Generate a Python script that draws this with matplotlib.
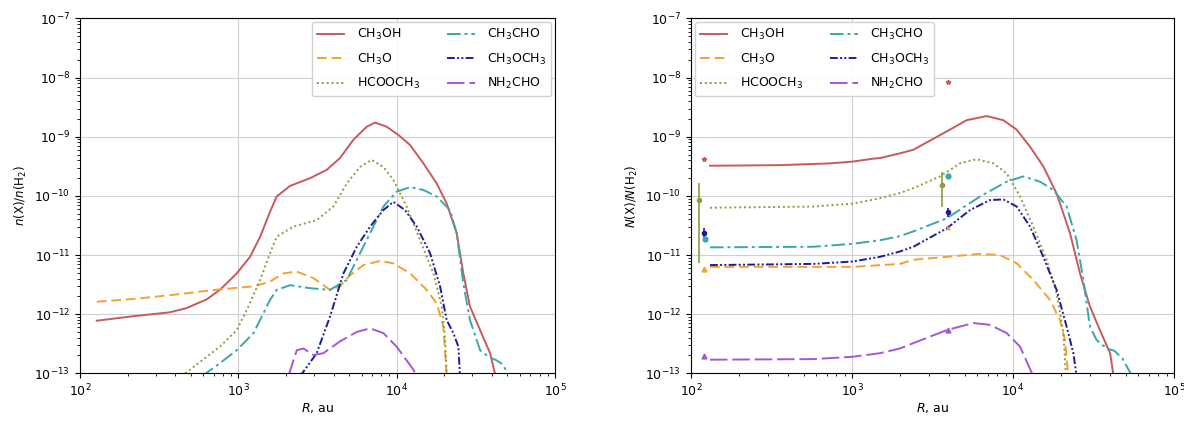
import numpy as np
import matplotlib
matplotlib.use("Agg")
import matplotlib.pyplot as plt
from matplotlib.ticker import NullFormatter, LogLocator, FixedLocator

species = ["CH$_3$OH", "CH$_3$O", "HCOOCH$_3$", "CH$_3$CHO", "CH$_3$OCH$_3$", "NH$_2$CHO"]
colors = ["#c85a5a", "#f5a030", "#8a9d3c", "#3aa8a8", "#1c1c98", "#a458d6"]
styles = ["-", (0, (5, 2.5)), (0, (1, 1.5)), (0, (7, 2, 1.5, 2)), (0, (4, 1.2, 1, 1.2, 1, 1.2)), (0, (9, 2.5))]

x_ticks = [1e2, 1e3, 1e4, 1e5]
y_ticks = [1e-13, 1e-12, 1e-11, 1e-10, 1e-9, 1e-8, 1e-7]

# ---- left panel: log10 R [au], log10 n(X)/n(H2)
L_CH3OH_x = [2.106, 2.351, 2.564, 2.67, 2.80, 2.883, 2.99, 3.074, 3.138, 3.20, 3.242, 3.327, 3.453, 3.558, 3.642, 3.727, 3.811, 3.863, 3.937, 4.011, 4.085, 4.169, 4.253, 4.316, 4.379, 4.421, 4.463, 4.527, 4.59, 4.625]
L_CH3OH_y = [-12.11, -12.03, -11.97, -11.90, -11.75, -11.59, -11.31, -11.03, -10.69, -10.27, -10.01, -9.83, -9.70, -9.56, -9.36, -9.05, -8.83, -8.76, -8.83, -8.97, -9.14, -9.45, -9.79, -10.13, -10.63, -11.31, -11.87, -12.27, -12.66, -13.05]
L_CH3O_x = [2.106, 2.351, 2.564, 2.883, 3.096, 3.20, 3.285, 3.369, 3.474, 3.579, 3.642, 3.706, 3.79, 3.895, 3.979, 4.085, 4.19, 4.253, 4.295, 4.316]
L_CH3O_y = [-11.79, -11.74, -11.68, -11.58, -11.53, -11.45, -11.31, -11.28, -11.39, -11.59, -11.53, -11.34, -11.17, -11.10, -11.14, -11.31, -11.59, -11.82, -12.21, -13.05]
L_HCOOCH3_x = [2.64, 2.777, 2.883, 2.99, 3.053, 3.138, 3.20, 3.242, 3.348, 3.495, 3.60, 3.685, 3.769, 3.842, 3.916, 3.979, 4.063, 4.148, 4.232, 4.285, 4.306, 4.316]
L_HCOOCH3_y = [-13.05, -12.77, -12.55, -12.27, -11.93, -11.42, -10.97, -10.69, -10.52, -10.41, -10.18, -9.79, -9.51, -9.39, -9.51, -9.73, -10.18, -10.75, -11.31, -11.87, -12.44, -13.05]
L_CH3CHO_x = [2.77, 2.883, 2.99, 3.096, 3.20, 3.242, 3.327, 3.453, 3.579, 3.685, 3.748, 3.832, 3.916, 4.00, 4.085, 4.169, 4.253, 4.337, 4.379, 4.421, 4.463, 4.527, 4.579, 4.63, 4.67, 4.71]
L_CH3CHO_y = [-13.05, -12.83, -12.61, -12.32, -11.76, -11.59, -11.51, -11.56, -11.59, -11.42, -11.08, -10.63, -10.18, -9.93, -9.85, -9.90, -10.01, -10.24, -10.63, -11.48, -12.10, -12.61, -12.72, -12.78, -12.85, -13.05]
L_CH3OCH3_x = [3.39, 3.495, 3.579, 3.664, 3.748, 3.832, 3.916, 3.979, 4.053, 4.127, 4.211, 4.274, 4.316, 4.358, 4.39, 4.40]
L_CH3OCH3_y = [-13.05, -12.66, -12.04, -11.31, -10.86, -10.52, -10.24, -10.10, -10.24, -10.52, -10.97, -11.53, -12.10, -12.32, -12.55, -13.05]
L_NH2CHO_x = [3.316, 3.369, 3.411, 3.474, 3.537, 3.642, 3.748, 3.832, 3.916, 4.00, 4.106, 4.127]
L_NH2CHO_y = [-13.05, -12.61, -12.58, -12.69, -12.66, -12.46, -12.30, -12.24, -12.32, -12.55, -12.94, -13.05]

# ---- right panel: log10 R [au], log10 N(X)/N(H2)
R_CH3OH_x = [2.118, 2.553, 2.863, 3.004, 3.132, 3.174, 3.298, 3.381, 3.588, 3.712, 3.837, 3.94, 4.023, 4.106, 4.188, 4.271, 4.354, 4.416, 4.478, 4.54, 4.603, 4.625]
R_CH3OH_y = [-9.49, -9.48, -9.45, -9.42, -9.37, -9.36, -9.28, -9.22, -8.91, -8.72, -8.65, -8.72, -8.88, -9.17, -9.50, -9.96, -10.63, -11.31, -11.87, -12.27, -12.66, -13.05]
R_CH3O_x = [2.118, 3.004, 3.298, 3.381, 3.588, 3.795, 3.919, 4.023, 4.126, 4.23, 4.292, 4.323, 4.344]
R_CH3O_y = [-11.20, -11.20, -11.15, -11.08, -11.03, -10.98, -11.00, -11.14, -11.42, -11.76, -12.10, -12.44, -13.05]
R_HCOOCH3_x = [2.118, 2.76, 3.004, 3.174, 3.298, 3.381, 3.547, 3.671, 3.774, 3.878, 3.961, 4.044, 4.126, 4.209, 4.271, 4.313, 4.329]
R_HCOOCH3_y = [-10.20, -10.18, -10.13, -10.04, -9.95, -9.87, -9.67, -9.45, -9.38, -9.45, -9.62, -10.01, -10.52, -11.08, -11.65, -12.32, -13.05]
R_CH3CHO_x = [2.118, 2.76, 3.004, 3.174, 3.298, 3.381, 3.588, 3.795, 3.961, 4.064, 4.168, 4.25, 4.333, 4.395, 4.437, 4.478, 4.52, 4.582, 4.63, 4.68, 4.74]
R_CH3CHO_y = [-10.87, -10.86, -10.81, -10.75, -10.68, -10.60, -10.38, -10.01, -9.76, -9.67, -9.76, -9.90, -10.18, -10.75, -11.42, -12.21, -12.44, -12.58, -12.62, -12.75, -13.05]
R_CH3OCH3_x = [2.118, 2.76, 3.004, 3.174, 3.298, 3.381, 3.588, 3.733, 3.857, 3.94, 4.023, 4.106, 4.188, 4.271, 4.333, 4.375, 4.395]
R_CH3OCH3_y = [-11.17, -11.15, -11.11, -11.03, -10.94, -10.86, -10.55, -10.24, -10.07, -10.06, -10.18, -10.52, -11.03, -11.59, -12.21, -12.66, -13.05]
R_NH2CHO_x = [2.118, 2.76, 3.004, 3.174, 3.298, 3.381, 3.588, 3.754, 3.857, 3.961, 4.044, 4.126]
R_NH2CHO_y = [-12.77, -12.76, -12.72, -12.66, -12.58, -12.49, -12.27, -12.15, -12.18, -12.32, -12.55, -13.05]

# observations: log10 R, log10 value, error down / up (dex), species index, marker
obs_R = [2.081, 2.05, 2.081, 2.09, 2.081, 2.081, 3.596, 3.561, 3.598, 3.598, 3.598, 3.598]
obs_v = [-9.38, -10.07, -10.62, -10.73, -11.24, -12.71, -8.07, -9.82, -10.28, -9.67, -10.55, -12.27]
obs_lo = [0.0, 1.07, 0.07, 0.0, 0.0, 0.0, 0.0, 0.36, 0.07, 0.0, 0.0, 0.0]
obs_hi = [0.0, 0.28, 0.07, 0.0, 0.0, 0.0, 0.0, 0.23, 0.07, 0.0, 0.0, 0.0]
obs_col = [0, 2, 4, 3, 1, 5, 0, 2, 4, 3, 1, 5]
obs_mk = ["*", "o", "o", "o", "^", "^", "*", "o", "o", "o", "x", "^"]

left_x = [L_CH3OH_x, L_CH3O_x, L_HCOOCH3_x, L_CH3CHO_x, L_CH3OCH3_x, L_NH2CHO_x]
left_y = [L_CH3OH_y, L_CH3O_y, L_HCOOCH3_y, L_CH3CHO_y, L_CH3OCH3_y, L_NH2CHO_y]
right_x = [R_CH3OH_x, R_CH3O_x, R_HCOOCH3_x, R_CH3CHO_x, R_CH3OCH3_x, R_NH2CHO_x]
right_y = [R_CH3OH_y, R_CH3O_y, R_HCOOCH3_y, R_CH3CHO_y, R_CH3OCH3_y, R_NH2CHO_y]

W, H = 1184, 421
fig = plt.figure(figsize=(W / 100, H / 100), dpi=100)
ax1 = fig.add_axes([80 / W, 47.7 / H, 475 / W, 354.8 / H])
ax2 = fig.add_axes([691 / W, 47.7 / H, 483 / W, 354.8 / H])

for ax, xs, ys in [(ax1, left_x, left_y), (ax2, right_x, right_y)]:
    for i in range(6):
        ax.plot(10 ** np.array(xs[i]), 10 ** np.array(ys[i]), color=colors[i],
                linestyle=styles[i], lw=1.4, label=species[i])
    ax.set_xscale("log")
    ax.set_yscale("log")
    ax.set_xlim(1e2, 1e5)
    ax.set_ylim(1e-13, 1e-7)
    ax.xaxis.set_major_locator(FixedLocator(x_ticks))
    ax.yaxis.set_major_locator(FixedLocator(y_ticks))
    ax.xaxis.set_minor_locator(LogLocator(base=10, subs=np.arange(2, 10), numticks=20))
    ax.yaxis.set_minor_locator(LogLocator(base=10, subs=np.arange(2, 10), numticks=20))
    ax.xaxis.set_minor_formatter(NullFormatter())
    ax.yaxis.set_minor_formatter(NullFormatter())
    ax.grid(True, which="major", color="#d0d0d0", lw=0.8)
    ax.tick_params(labelsize=9)
    ax.set_xlabel("$R$, au", fontsize=9, labelpad=1)

for k in range(len(obs_R)):
    c = colors[obs_col[k]]
    x = 10 ** obs_R[k]
    y = 10 ** obs_v[k]
    if obs_lo[k] > 0 or obs_hi[k] > 0:
        ylo = y - 10 ** (obs_v[k] - obs_lo[k])
        yhi = 10 ** (obs_v[k] + obs_hi[k]) - y
        ax2.errorbar([x], [y], yerr=[[ylo], [yhi]], fmt=obs_mk[k], color=c,
                     ms=3, lw=1.2, capsize=0)
    else:
        ax2.plot([x], [y], marker=obs_mk[k], color=c, ms=3.5, ls="none")

ax1.set_ylabel("$n$(X)/$n$(H$_2$)", fontsize=8.5)
ax2.set_ylabel("$N$(X)/$N$(H$_2$)", fontsize=8.5)

leg_kw = dict(ncol=2, fontsize=9, framealpha=0.9, handlelength=2.2, columnspacing=2.2,
              labelspacing=0.75, handletextpad=1.0, borderaxespad=0.3)
ax1.legend(loc="upper right", **leg_kw)
ax2.legend(loc="upper left", **leg_kw)

fig.savefig("out.png", dpi=100)
